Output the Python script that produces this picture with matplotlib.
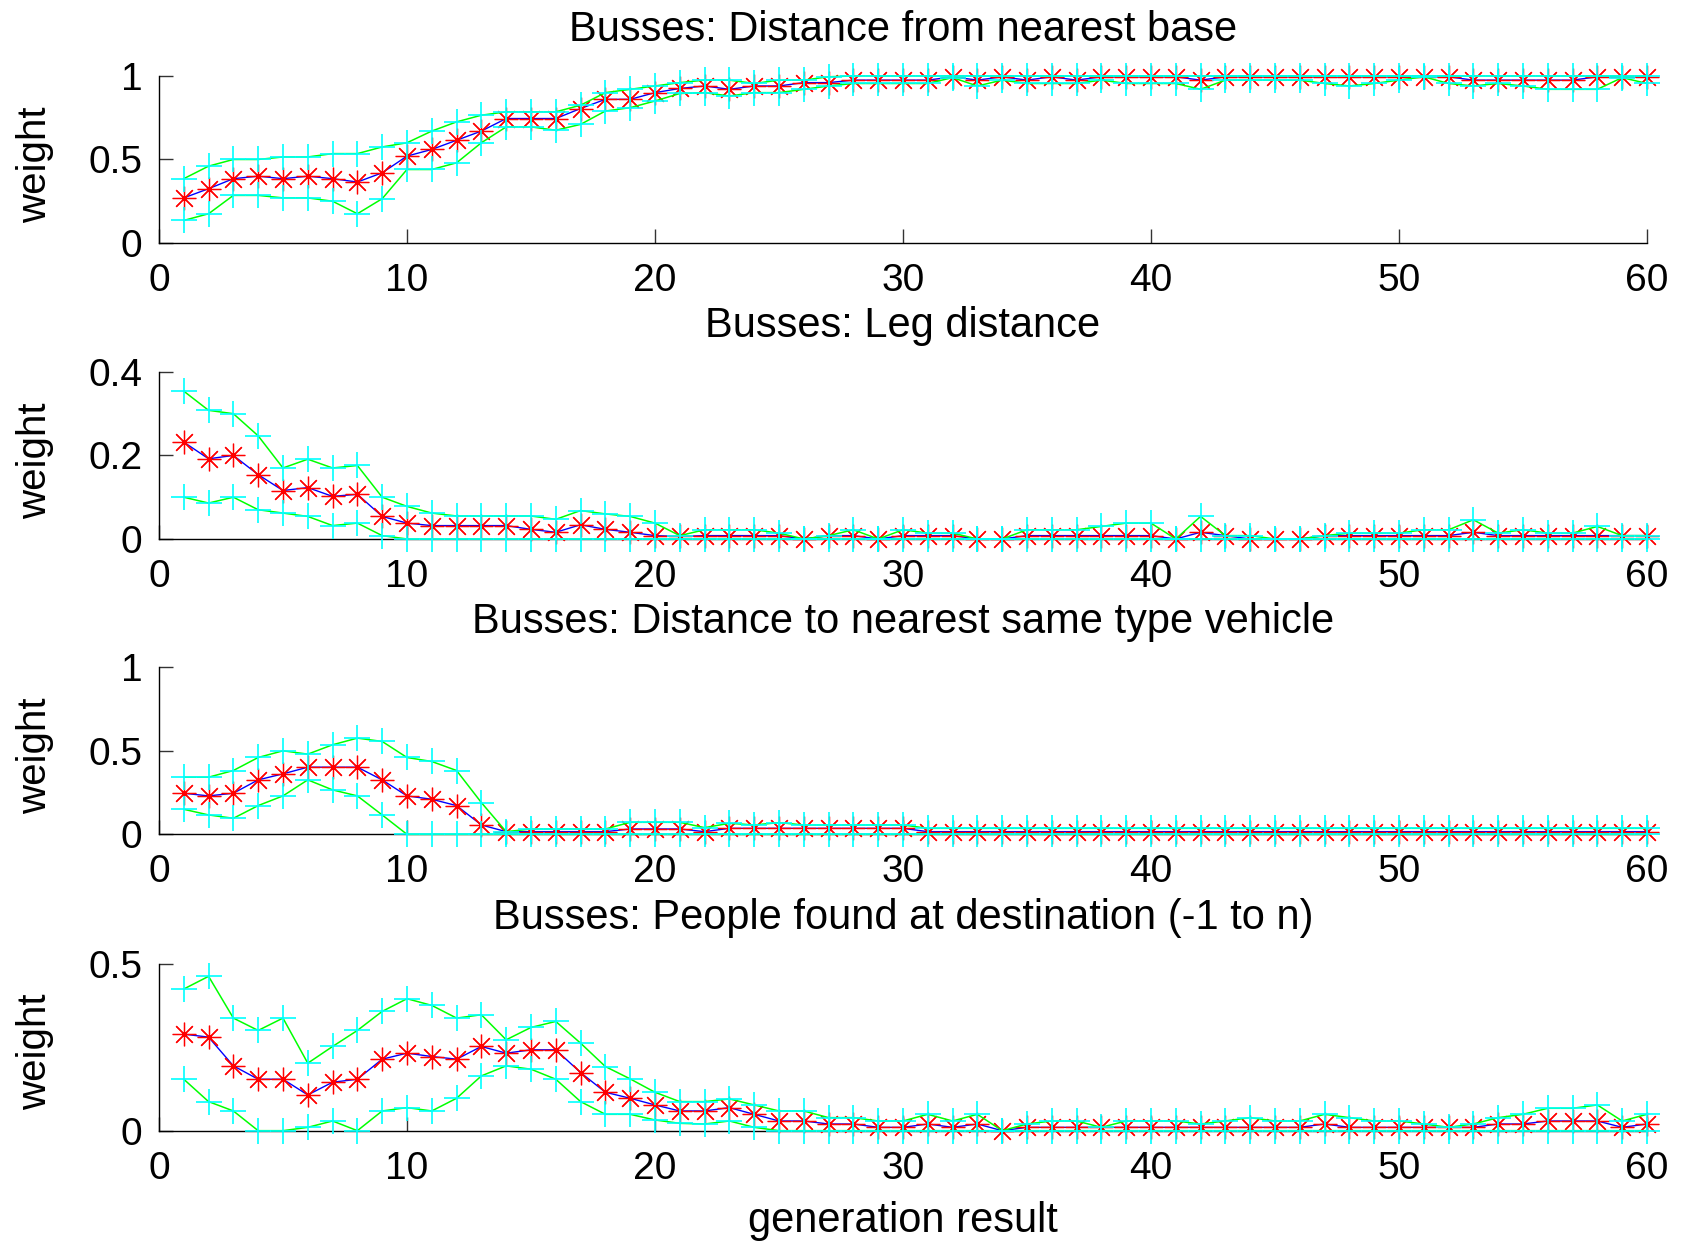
#!/usr/bin/env python3
"""
Bus weight evolution over 60 generations: four stacked panels,
mean (blue line, red asterisks) with mean +/- std band (green lines, cyan pluses).
"""

import numpy as np
import matplotlib
matplotlib.use("Agg")
import matplotlib.pyplot as plt

# ── Global style ─────────────────────────────────────────────────────
plt.rcParams.update({
    "figure.facecolor": "white",
    "axes.facecolor": "white",
    "axes.grid": False,
    "axes.edgecolor": "#000000",
    "axes.linewidth": 1.0,
    "font.family": ["Liberation Sans", "DejaVu Sans"],
    "font.size": 28,
    "xtick.direction": "in",
    "ytick.direction": "in",
    "xtick.major.size": 10,
    "ytick.major.size": 10,
    "xtick.major.width": 1.0,
    "ytick.major.width": 1.0,
    "xtick.color": "#333333",
    "ytick.color": "#333333",
    "xtick.labelcolor": "black",
    "ytick.labelcolor": "black",
    "xtick.major.pad": 14.5,
    "ytick.major.pad": 12,
})

COLOR_MEAN_LINE = "#0000FF"
COLOR_MEAN_MARK = "#FF0000"
COLOR_BAND_LINE = "#00FF00"
COLOR_BAND_MARK = "#00FFFF"

# ── Data ─────────────────────────────────────────────────────────────
generation = np.arange(1, 61)

titles = [
    "Busses: Distance from nearest base",
    "Busses: Leg distance",
    "Busses: Distance to nearest same type vehicle",
    "Busses: People found at destination (-1 to n)",
]

ylims = [(0, 1), (0, 0.4), (0, 1), (0, 0.5)]
yticks = [[0, 0.5, 1], [0, 0.2, 0.4], [0, 0.5, 1], [0, 0.5]]
yticklabels = [["0", "0.5", "1"], ["0", "0.2", "0.4"], ["0", "0.5", "1"], ["0", "0.5"]]
xticks = [0, 10, 20, 30, 40, 50, 60]

# Panel 1: distance from nearest base
base_mean = [0.27, 0.325, 0.385, 0.40, 0.385, 0.40, 0.385, 0.365, 0.42, 0.52,
             0.56, 0.615, 0.67, 0.745, 0.745, 0.745, 0.805, 0.86, 0.86, 0.90,
             0.925, 0.94, 0.92, 0.94, 0.94, 0.96, 0.96, 0.975, 0.975, 0.975,
             0.975, 0.995, 0.975, 0.995, 0.975, 0.995, 0.975, 0.995, 0.995, 0.995,
             0.995, 0.975, 0.995, 0.995, 0.995, 0.995, 0.995, 0.995, 0.995, 0.995,
             0.995, 0.995, 0.975, 0.975, 0.975, 0.975, 0.975, 0.995, 0.995, 0.995]
base_upper = [0.385, 0.46, 0.50, 0.50, 0.515, 0.515, 0.535, 0.535, 0.575, 0.60,
              0.67, 0.725, 0.765, 0.785, 0.785, 0.785, 0.825, 0.90, 0.92, 0.94,
              0.96, 0.975, 0.975, 0.955, 0.975, 0.975, 0.995, 1.0, 1.0, 1.0,
              1.0, 1.0, 1.0, 1.0, 1.0, 1.0, 1.0, 1.0, 1.0, 1.0,
              1.0, 1.0, 1.0, 1.0, 1.0, 1.0, 1.0, 1.0, 1.0, 1.0,
              1.0, 1.0, 1.0, 1.0, 1.0, 1.0, 1.0, 1.0, 1.0, 1.0]
base_lower = [0.135, 0.175, 0.285, 0.285, 0.27, 0.27, 0.25, 0.175, 0.265, 0.44,
              0.44, 0.48, 0.60, 0.695, 0.695, 0.675, 0.71, 0.79, 0.81, 0.85,
              0.895, 0.90, 0.88, 0.90, 0.90, 0.92, 0.94, 0.955, 0.955, 0.955,
              0.955, 0.99, 0.94, 0.975, 0.955, 0.955, 0.955, 0.975, 0.955, 0.955,
              0.955, 0.92, 0.975, 0.975, 0.975, 0.975, 0.955, 0.94, 0.955, 0.975,
              0.995, 0.955, 0.94, 0.955, 0.94, 0.92, 0.92, 0.92, 0.99, 0.955]

# Panel 2: leg distance
leg_mean = [0.232, 0.192, 0.200, 0.154, 0.116, 0.123, 0.102, 0.107, 0.054, 0.038,
            0.032, 0.032, 0.032, 0.032, 0.023, 0.016, 0.034, 0.023, 0.016, 0.008,
            0.006, 0.008, 0.008, 0.008, 0.008, 0.0, 0.008, 0.008, 0.0, 0.008,
            0.008, 0.008, 0.0, 0.0, 0.008, 0.008, 0.008, 0.008, 0.008, 0.008,
            0.0, 0.016, 0.008, 0.0, 0.0, 0.0, 0.008, 0.008, 0.008, 0.008,
            0.008, 0.008, 0.016, 0.008, 0.008, 0.008, 0.008, 0.008, 0.008, 0.008]
leg_upper = [0.354, 0.308, 0.300, 0.247, 0.170, 0.191, 0.170, 0.176, 0.100, 0.078,
             0.062, 0.055, 0.055, 0.055, 0.055, 0.047, 0.068, 0.060, 0.054, 0.038,
             0.008, 0.022, 0.022, 0.022, 0.014, 0.0, 0.008, 0.022, 0.0, 0.022,
             0.014, 0.014, 0.0, 0.0, 0.022, 0.022, 0.022, 0.030, 0.038, 0.038,
             0.0, 0.054, 0.008, 0.008, 0.0, 0.0, 0.008, 0.014, 0.014, 0.014,
             0.022, 0.022, 0.046, 0.014, 0.022, 0.014, 0.014, 0.030, 0.008, 0.008]
leg_lower = [0.100, 0.086, 0.100, 0.070, 0.062, 0.054, 0.032, 0.038, 0.008, 0.0,
             0.0, 0.0, 0.0, 0.0, 0.0, 0.0, 0.0, 0.0, 0.0, 0.0,
             0.0, 0.0, 0.0, 0.0, 0.0, 0.0, 0.0, 0.0, 0.0, 0.0,
             0.0, 0.0, 0.0, 0.0, 0.0, 0.0, 0.0, 0.0, 0.0, 0.0,
             0.0, 0.0, 0.0, 0.0, 0.0, 0.0, 0.0, 0.0, 0.0, 0.0,
             0.0, 0.0, 0.0, 0.0, 0.0, 0.0, 0.0, 0.0, 0.0, 0.0]

# Panel 3: distance to nearest same type vehicle
same_mean = [0.246, 0.23, 0.246, 0.326, 0.362, 0.402, 0.402, 0.402, 0.326, 0.23,
             0.21, 0.172, 0.056, 0.016, 0.016, 0.016, 0.016, 0.016, 0.032, 0.032,
             0.032, 0.016, 0.036, 0.036, 0.036, 0.036, 0.036, 0.036, 0.036, 0.036,
             0.016, 0.016, 0.016, 0.016, 0.016, 0.016, 0.016, 0.016, 0.016, 0.016,
             0.016, 0.016, 0.016, 0.016, 0.016, 0.016, 0.016, 0.016, 0.016, 0.016,
             0.016, 0.016, 0.016, 0.016, 0.016, 0.016, 0.016, 0.016, 0.016, 0.016]
same_upper = [0.342, 0.342, 0.382, 0.46, 0.50, 0.48, 0.536, 0.576, 0.556, 0.46,
              0.436, 0.382, 0.19, 0.016, 0.032, 0.032, 0.032, 0.032, 0.072, 0.072,
              0.072, 0.04, 0.066, 0.056, 0.07, 0.056, 0.056, 0.056, 0.056, 0.056,
              0.036, 0.036, 0.036, 0.036, 0.036, 0.036, 0.036, 0.036, 0.036, 0.036,
              0.036, 0.036, 0.036, 0.036, 0.036, 0.036, 0.036, 0.036, 0.036, 0.036,
              0.036, 0.036, 0.036, 0.036, 0.036, 0.036, 0.036, 0.036, 0.036, 0.036]
same_lower = [0.15, 0.116, 0.096, 0.172, 0.23, 0.326, 0.266, 0.23, 0.116, 0.0,
              0.0, 0.0, 0.0, 0.0, 0.0, 0.0, 0.0, 0.0, 0.0, 0.0,
              0.0, 0.0, 0.0, 0.0, 0.0, 0.0, 0.0, 0.0, 0.0, 0.0,
              0.0, 0.0, 0.0, 0.0, 0.0, 0.0, 0.0, 0.0, 0.0, 0.0,
              0.0, 0.0, 0.0, 0.0, 0.0, 0.0, 0.0, 0.0, 0.0, 0.0,
              0.0, 0.0, 0.0, 0.0, 0.0, 0.0, 0.0, 0.0, 0.0, 0.0]

# Panel 4: people found at destination
people_mean = [0.289, 0.280, 0.194, 0.154, 0.154, 0.107, 0.145, 0.154, 0.214, 0.232,
               0.222, 0.214, 0.252, 0.232, 0.242, 0.242, 0.174, 0.115, 0.097, 0.077,
               0.059, 0.059, 0.069, 0.049, 0.029, 0.029, 0.02, 0.02, 0.01, 0.01,
               0.02, 0.01, 0.02, 0.0, 0.01, 0.01, 0.01, 0.01, 0.01, 0.01,
               0.01, 0.01, 0.01, 0.01, 0.01, 0.01, 0.02, 0.01, 0.01, 0.01,
               0.01, 0.01, 0.01, 0.02, 0.02, 0.029, 0.029, 0.029, 0.01, 0.02]
people_upper = [0.424, 0.462, 0.337, 0.300, 0.337, 0.202, 0.252, 0.300, 0.357, 0.395,
                0.375, 0.337, 0.347, 0.272, 0.309, 0.327, 0.262, 0.192, 0.155, 0.115,
                0.087, 0.087, 0.095, 0.077, 0.059, 0.059, 0.039, 0.039, 0.029, 0.029,
                0.049, 0.029, 0.049, 0.0, 0.02, 0.029, 0.029, 0.01, 0.029, 0.029,
                0.029, 0.02, 0.029, 0.039, 0.029, 0.029, 0.049, 0.039, 0.029, 0.029,
                0.02, 0.01, 0.02, 0.039, 0.049, 0.067, 0.067, 0.077, 0.029, 0.049]
people_lower = [0.154, 0.087, 0.059, 0.0, 0.0, 0.01, 0.029, 0.0, 0.059, 0.069,
                0.059, 0.097, 0.164, 0.194, 0.184, 0.154, 0.087, 0.049, 0.049, 0.032,
                0.022, 0.02, 0.029, 0.01, 0.0, 0.0, 0.0, 0.0, 0.0, 0.0,
                0.0, 0.0, 0.0, 0.0, 0.0, 0.0, 0.0, 0.0, 0.0, 0.0,
                0.0, 0.0, 0.0, 0.0, 0.0, 0.0, 0.0, 0.0, 0.0, 0.0,
                0.0, 0.0, 0.0, 0.0, 0.0, 0.0, 0.0, 0.0, 0.0, 0.0]

panels = [
    (base_mean, base_upper, base_lower),
    (leg_mean, leg_upper, leg_lower),
    (same_mean, same_upper, same_lower),
    (people_mean, people_upper, people_lower),
]

# 8-armed asterisk (plus + cross)
ASTERISK = (8, 2, 0)


def draw_panel(ax, mean, upper, lower, title, ylim, ytk, ytl):
    ax.plot(generation, mean, "-", color=COLOR_MEAN_LINE, lw=1.0, clip_on=False, zorder=2)
    ax.plot(generation, mean, ls="none", marker=ASTERISK, ms=17, mew=0.9,
            color=COLOR_MEAN_MARK, clip_on=False, zorder=3)
    for band in (upper, lower):
        ax.plot(generation, band, "-", color=COLOR_BAND_LINE, lw=1.1,
                clip_on=False, zorder=4)
        ax.plot(generation, band, ls="none", marker="+", ms=19, mew=1.2,
                color=COLOR_BAND_MARK, clip_on=False, zorder=5)

    ax.set_xlim(0, 60)
    ax.set_ylim(*ylim)
    ax.set_xticks(xticks)
    ax.set_xticklabels([str(t) for t in xticks])
    ax.set_yticks(ytk)
    ax.set_yticklabels(ytl)
    ax.spines["top"].set_visible(False)
    ax.spines["right"].set_visible(False)
    ax.set_title(title, pad=25, fontsize=30)
    ax.set_ylabel("weight", fontsize=29)
    ax.yaxis.set_label_coords(-0.0706, 0.47)


def main():
    fig = plt.figure(figsize=(16.84, 12.41), dpi=100)
    left, width, height = 0.0944, 0.8836, 0.1346
    bottoms = [0.8042, 0.5657, 0.3277, 0.0889]

    for i, (mean, upper, lower) in enumerate(panels):
        ax = fig.add_axes([left, bottoms[i], width, height])
        draw_panel(ax, mean, upper, lower, titles[i], ylims[i], yticks[i], yticklabels[i])
        if i == len(panels) - 1:
            ax.set_xlabel("generation result", fontsize=30)
            ax.xaxis.set_label_coords(0.5, -0.422)

    fig.savefig("out.png", dpi=100)
    plt.close(fig)


if __name__ == "__main__":
    main()
